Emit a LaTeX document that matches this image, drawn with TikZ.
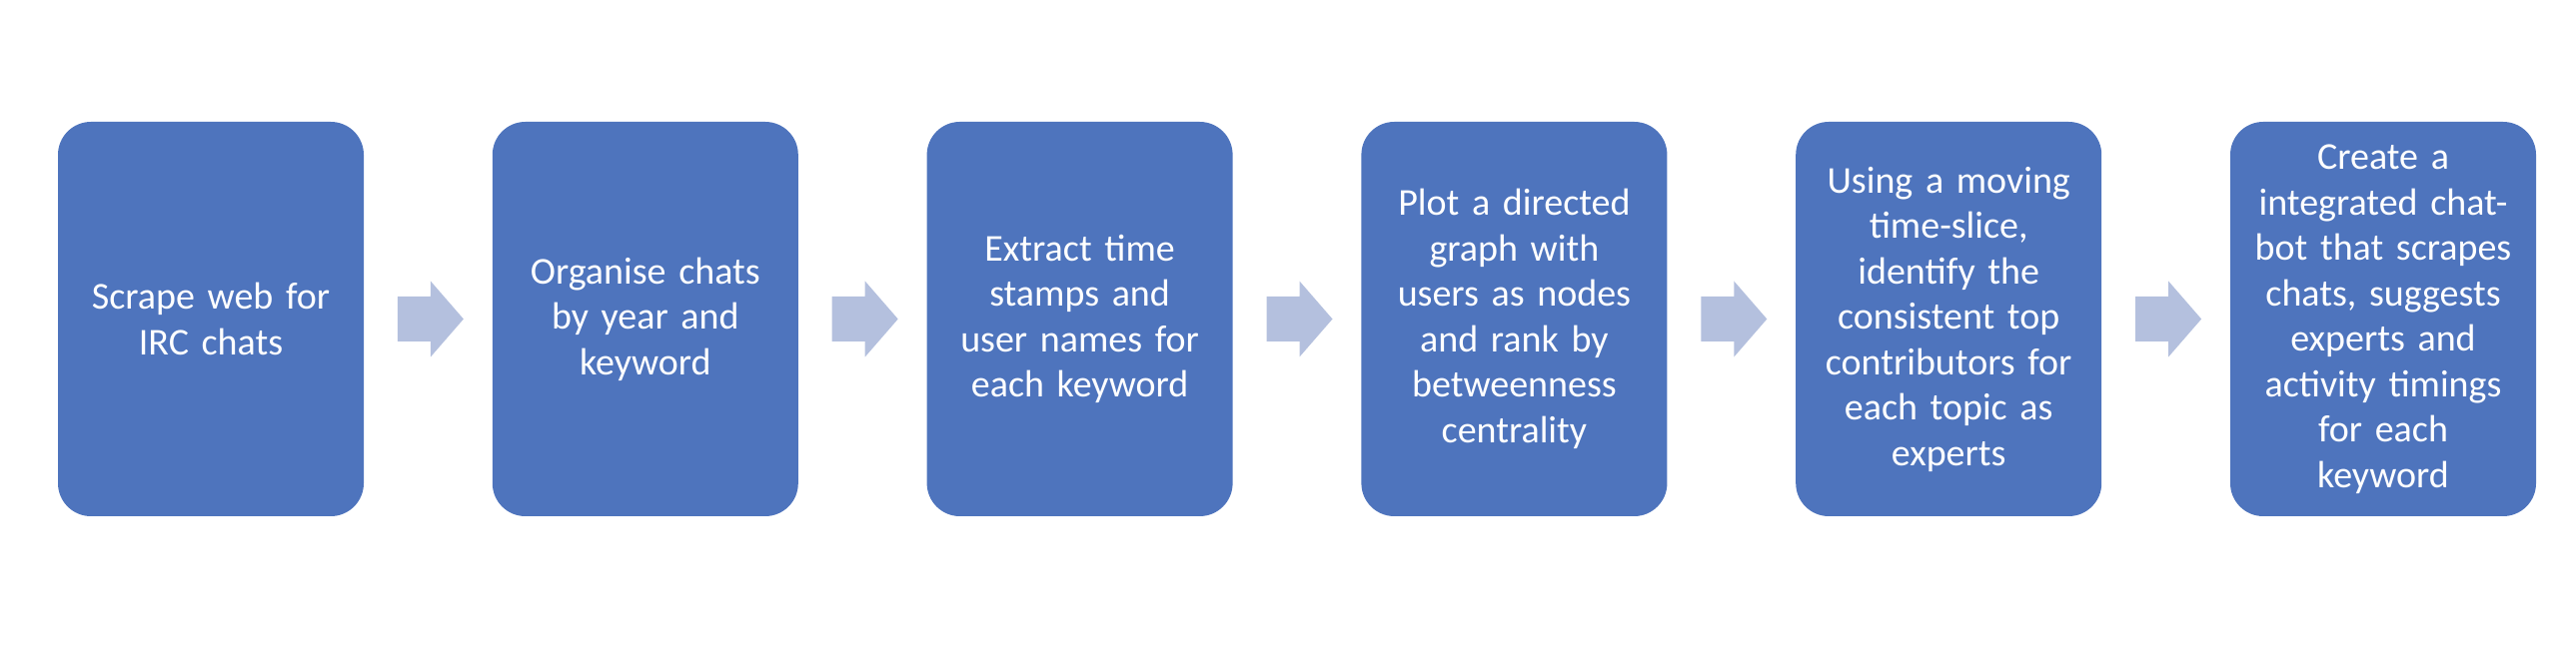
\documentclass[tikz,border=0pt]{standalone}
\usepackage{fontspec}
\setmainfont{Carlito}
\usetikzlibrary{calc}
\definecolor{boxblue}{RGB}{78,116,189}
\definecolor{arrowblue}{RGB}{180,192,222}
\tikzset{
  stepbox/.style={fill=boxblue, draw=none, rounded corners=33pt, minimum width=306pt, minimum height=395pt,
    text width=290pt, align=center, inner sep=0pt, text=white,
    font=\fontsize{38}{45.5}\selectfont},
  blockarrow/.style={fill=arrowblue, draw=none}
}
\begin{document}
\begin{tikzpicture}[x=1pt,y=1pt]
\useasboundingbox (0,0) rectangle (2578,672);
\node[stepbox] (b1) at (211,352.5) {Scrape web for\\IRC chats};
\node[stepbox] (b2) at (645.8,352.5) {Organise chats\\by year and\\keyword};
\node[stepbox] (b3) at (1080.6,352.5) {Extract time\\stamps and\\user names for\\each keyword};
\node[stepbox] (b4) at (1515.4,352.5) {Plot a directed\\graph with\\users as nodes\\and rank by\\betweenness\\centrality};
\node[stepbox] (b5) at (1950.2,352.5) {Using a moving\\time-slice,\\identify the\\consistent top\\contributors for\\each topic as\\experts};
\node[stepbox] (b6) at (2385,352.5) {Create a\\integrated chat-\\bot that scrapes\\chats, suggests\\experts and\\activity timings\\for each\\keyword};
\foreach \a/\b in {b1/b2,b2/b3,b3/b4,b4/b5,b5/b6}{
  \fill[blockarrow] ($(\a.east)!0.5!(\b.west)+(-30.5,-22.5)$) -- ++(33,0) -- ++(0,-15.5) -- ++(33,38) -- ++(-33,38) -- ++(0,-15.5) -- ++(-33,0) -- cycle;
}
\end{tikzpicture}
\end{document}
